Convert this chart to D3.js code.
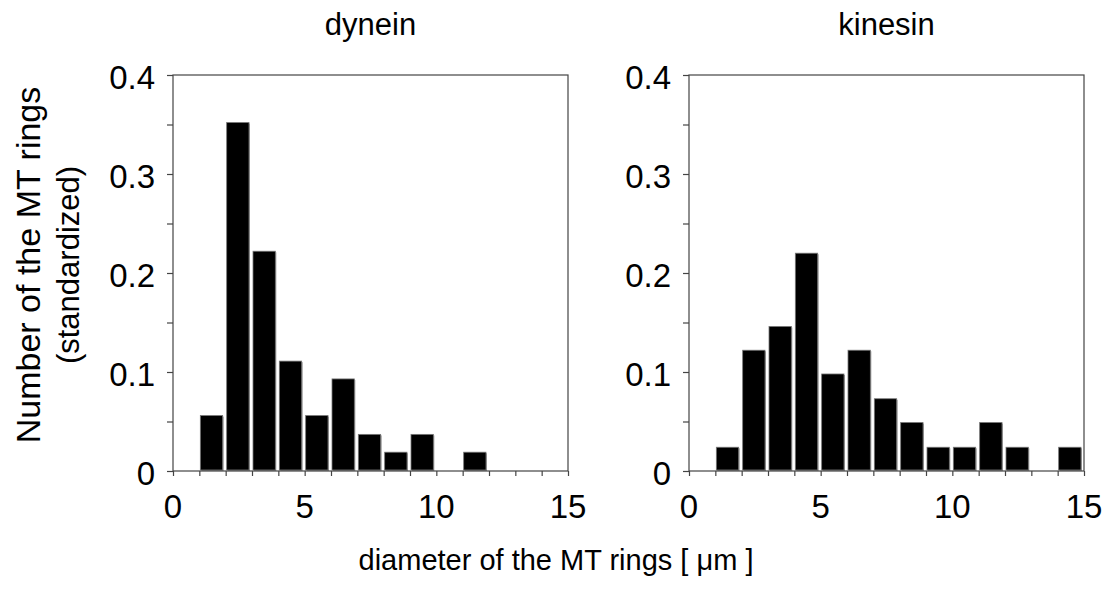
<!DOCTYPE html>
<html>
<head>
<meta charset="utf-8">
<style>
  body { margin: 0; background: #fff; }
  text { font-family: "Liberation Sans", Arial, sans-serif; fill: #000; }
</style>
</head>
<body>
<div id="chart"></div>
<script src="https://cdn.jsdelivr.net/npm/d3@7"></script>
<script>
// bin left edges (um), bins are 1 um wide
var binStarts = [1, 2, 3, 4, 5, 6, 7, 8, 9, 10, 11, 12, 13, 14];
// standardized counts per bin
var dyneinValues  = [0.056, 0.352, 0.222, 0.111, 0.056, 0.093, 0.037, 0.019, 0.037, 0, 0.019, 0, 0, 0];
var kinesinValues = [0.024, 0.122, 0.146, 0.220, 0.098, 0.122, 0.073, 0.049, 0.024, 0.024, 0.049, 0.024, 0, 0.024];
var xTicks = [0, 5, 10, 15];
var yTicks = [0, 0.1, 0.2, 0.3, 0.4];
var panels = [
  { title: "dynein", values: dyneinValues, left: 173 },
  { title: "kinesin", values: kinesinValues, left: 689 }
];

var W = 1113, H = 589;
var plotW = 395, plotTop = 75, plotBottom = 471;

var svg = d3.select("#chart").append("svg")
    .attr("width", W).attr("height", H);

var yScale = d3.scaleLinear().domain([0, 0.4]).range([plotBottom, plotTop]);

panels.forEach(function (p) {
  var xScale = d3.scaleLinear().domain([0, 15]).range([p.left, p.left + plotW]);
  var g = svg.append("g");

  // bars with a thin grey shadow on the right
  var bars = binStarts.map(function (b, i) { return { x0: b, v: p.values[i] }; })
                      .filter(function (d) { return d.v > 0; });

  g.selectAll("rect.shadow").data(bars).enter().append("rect")
      .attr("class", "shadow")
      .attr("x", function (d) { return xScale(d.x0) + 2; })
      .attr("y", function (d) { return yScale(d.v) + 1; })
      .attr("width", function (d) { return xScale(d.x0 + 1) - xScale(d.x0) - 4; })
      .attr("height", function (d) { return yScale(0) - yScale(d.v) - 1; })
      .attr("fill", "#9a9a9a");

  g.selectAll("rect.bar").data(bars).enter().append("rect")
      .attr("class", "bar")
      .attr("x", function (d) { return xScale(d.x0) + 1; })
      .attr("y", function (d) { return yScale(d.v); })
      .attr("width", function (d) { return xScale(d.x0 + 1) - xScale(d.x0) - 4; })
      .attr("height", function (d) { return yScale(0) - yScale(d.v) - 1; })
      .attr("fill", "#000")
      .attr("stroke", "#777")
      .attr("stroke-width", 0.8);

  // frame
  g.append("rect")
      .attr("x", xScale(0)).attr("y", yScale(0.4))
      .attr("width", xScale(15) - xScale(0))
      .attr("height", yScale(0) - yScale(0.4))
      .attr("fill", "none").attr("stroke", "#444").attr("stroke-width", 1.2);

  // y axis: minor ticks every 0.05, labels every 0.1
  var yAxis = d3.axisLeft(yScale)
      .tickValues(d3.range(0, 0.401, 0.05))
      .tickSize(6).tickFormat("");
  var ya = g.append("g").attr("transform", "translate(" + xScale(0) + ",0)").call(yAxis);
  ya.select(".domain").remove();
  ya.selectAll("line").attr("stroke", "#444").attr("stroke-width", 1.2);

  g.selectAll("text.ylab").data(yTicks).enter().append("text")
      .attr("class", "ylab")
      .attr("x", xScale(0) - 18)
      .attr("y", function (d) { return yScale(d) + 14; })
      .attr("text-anchor", "end")
      .style("font-size", "33px")
      .text(function (d) { return d === 0 ? "0" : d3.format(".1f")(d); });

  // x axis: ticks every 1, labels every 5
  var xAxis = d3.axisBottom(xScale)
      .tickValues(d3.range(0, 16, 1))
      .tickSize(5).tickFormat("");
  var xa = g.append("g").attr("transform", "translate(0," + yScale(0) + ")").call(xAxis);
  xa.select(".domain").remove();
  xa.selectAll("line").attr("stroke", "#444").attr("stroke-width", 1.2);

  g.selectAll("text.xlab").data(xTicks).enter().append("text")
      .attr("class", "xlab")
      .attr("x", function (d) { return xScale(d); })
      .attr("y", 518)
      .attr("text-anchor", "middle")
      .style("font-size", "33px")
      .text(function (d) { return d; });

  // panel title
  g.append("text")
      .attr("x", (xScale(0) + xScale(15)) / 2)
      .attr("y", 35)
      .attr("text-anchor", "middle")
      .style("font-size", "31px")
      .text(p.title);
});

// axis titles
svg.append("text")
    .attr("x", 556).attr("y", 570)
    .attr("text-anchor", "middle")
    .style("font-size", "29px")
    .text("diameter of the MT rings [ \u03bcm ]");

var yt = svg.append("g").attr("transform", "translate(0,265) rotate(-90)");
yt.append("text")
    .attr("x", 0).attr("y", 40)
    .attr("text-anchor", "middle")
    .style("font-size", "34px")
    .text("Number of the MT rings");
yt.append("text")
    .attr("x", 0).attr("y", 79)
    .attr("text-anchor", "middle")
    .style("font-size", "31px")
    .text("(standardized)");
</script>
</body>
</html>
